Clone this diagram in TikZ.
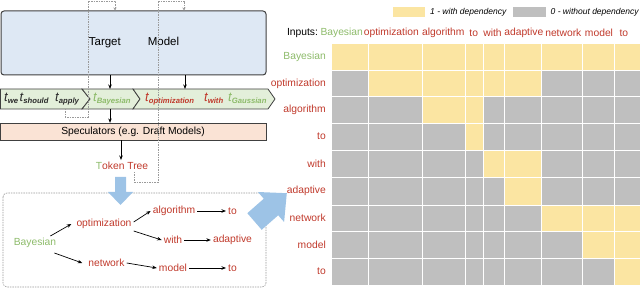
\documentclass[tikz,border=0pt]{standalone}
\usepackage{fontspec}
\setmainfont{Liberation Sans}
\usetikzlibrary{arrows.meta}
\definecolor{redw}{HTML}{C0392B}
\definecolor{grnw}{HTML}{8DBB6A}
\definecolor{cellY}{HTML}{FBE5A2}
\definecolor{cellG}{HTML}{BFBFBF}
\definecolor{tmfill}{HTML}{DEE8F4}
\definecolor{spfill}{HTML}{FAE3D5}
\definecolor{stripfill}{HTML}{E3EFDA}
\definecolor{bluearr}{HTML}{9DC3E6}
\definecolor{dashgray}{HTML}{9A9A9A}
\definecolor{edgec}{HTML}{404040}
\definecolor{tokdark}{HTML}{2B2B2B}
\newcommand{\tokn}[1]{{\fontsize{13}{14}\selectfont t}\raisebox{-2pt}{\fontsize{7.7}{8}\selectfont\bfseries #1}}
\begin{document}
\begin{tikzpicture}[x=1pt,y=-1pt,
  word/.style={font=\fontsize{10.3}{12}\selectfont, inner sep=2pt},
  redword/.style={word, text=redw},
  greenword/.style={word, text=grnw},
  tok/.style={font=\itshape, inner sep=0pt, anchor=base west},
  arr/.style={-{Stealth[length=4.5pt,width=3.5pt]}, line width=0.7pt, black},
  dashln/.style={dashgray, line width=0.6pt, dash pattern=on 1.5pt off 1pt},
  dasharr/.style={dashln, -{Stealth[length=3pt,width=3pt]}},
  chunk/.style={fill=stripfill, draw=edgec, line width=0.8pt, line join=miter},
  legtext/.style={font=\fontsize{8.5}{10}\selectfont\itshape, inner sep=0pt, anchor=west}
]
\useasboundingbox (0,0) rectangle (640,288);

% Target model box
\node[draw=edgec, line width=1pt, fill=tmfill, rounded corners=3pt,
      minimum width=265pt, minimum height=64pt, inner sep=0pt] (tm) at (133.5,43) {};
\node[font=\fontsize{11.5}{13}\selectfont, inner sep=0pt] (tmtext) at (134,43) {Target\hspace{27pt}Model};

% token strip
\draw[chunk] (0.5,89) -- (82,89) -- (90,99) -- (82,109) -- (0.5,109) -- cycle;
\draw[chunk] (82,89) -- (133,89) -- (140,99) -- (133,109) -- (82,109) -- (90,99) -- cycle;
\draw[chunk] (133,89) -- (268,89) -- (275,99) -- (268,109) -- (133,109) -- (140,99) -- cycle;
\node[tok, text=tokdark] (twe) at (4,102) {\tokn{we}};
\node[tok, text=tokdark] (tshould) at (19.5,102) {\tokn{should}};
\node[tok, text=tokdark] (tapply) at (55,102) {\tokn{apply}};
\node[tok, text=grnw] (tbay) at (93,102) {\tokn{Bayesian}};
\node[tok, text=redw] (topt) at (145,102) {\tokn{optimization}};
\node[tok, text=redw] (twith) at (204,102) {\tokn{with}};
\node[tok, text=grnw] (tgau) at (228,102) {\tokn{Gaussian}};
\coordinate (s1top) at (110,89);
\coordinate (s2top) at (185,89);
\coordinate (s1bot) at (110,109);

% speculators
\node[draw=edgec, line width=0.9pt, fill=spfill, minimum width=266pt, minimum height=16.7pt, inner sep=0pt] (spec) at (133.5,131.7) {};
\node[font=\fontsize{10.3}{12}\selectfont, inner sep=0pt] (spectext) at (133,131.7) {Speculators (e.g. Draft Models)};

% token tree label
\node[redword] (tt) at (122,166) {{\color{grnw}T}oken Tree};

% arrows
\draw[arr] (tm.south -| s1top) -- (s1top);
\draw[arr] (tm.south -| s2top) -- (s2top);
\draw[arr] (s1bot) -- (spec.north -| s1bot);
\draw[arr] ([xshift=-12.5pt]spec.south) -- ([xshift=-1pt]tt.north);

% dashed feedback lines
\coordinate (da0) at (65,109);
\coordinate (db0) at (134,172);
\draw[dasharr] (da0) -- (65,117) -- (88,117) -- (88,1) -- (115,1) -- (tm.north -| 115,0);
\draw[dasharr] (db0) -- (134,182) -- (158,182) -- (158,1) -- (184,1) -- (tm.north -| 184,0);

% tree box
\draw[dashln, rounded corners=4pt] (3,193) rectangle (266,287);

% tree nodes
\node[greenword] (bay) at (35,243) {Bayesian};
\node[redword] (opt) at (104,224) {optimization};
\node[redword] (alg) at (174,211) {algorithm};
\node[redword] (to1) at (232.5,211) {to};
\node[redword] (with) at (173,240) {with};
\node[redword] (adapt) at (232.5,240) {adaptive};
\node[redword] (net) at (106.5,263) {network};
\node[redword] (model) at (173,268) {model};
\node[redword] (to2) at (232.5,268) {to};

\draw[arr] ([xshift=-8pt]bay.north east) -- ([xshift=-3pt]opt.west);
\draw[arr] ([xshift=-4pt,yshift=-3pt]bay.south east) -- ([xshift=-4pt]net.west);
\draw[arr] ([yshift=2pt]opt.east) -- (alg.west);
\draw[arr] (opt.south east) -- (with.west);
\draw[arr] (alg.east) -- (to1.west);
\draw[arr] (with.east) -- (adapt.west);
\draw[arr] (net.east) -- (model.west);
\draw[arr] (model.east) -- (to2.west);

% blue arrows
\fill[bluearr] (115,177) -- (126,177) -- (126,192) -- (133,192) -- (120.5,205) -- (108,192) -- (115,192) -- cycle;
\fill[bluearr] (263.8,198.7) -- (257.9,192) -- (286.8,193.2) -- (284.1,222) -- (278.2,215.3) -- (261.7,229.8) -- (247.3,213.2) -- cycle;

% legend
\fill[cellY] (393,7) rectangle (425,16.7);
\node[legtext] (l1) at (430,12) {1 - with dependency};
\fill[cellG] (513,7) rectangle (546,16.7);
\node[legtext] (l0) at (550.5,12) {0 - without dependency};

% header
\node[word] (inp) at (302.5,33) {Inputs:};
\node[greenword] (h1) at (341.7,33) {Bayesian};
\node[redword] (h2) at (391.3,33) {optimization};
\node[redword] (h3) at (443.3,33) {algorithm};
\node[redword] (h4) at (473.7,33) {to};
\node[redword] (h5) at (492.5,33) {with};
\node[redword] (h6) at (523.8,33) {adaptive};
\node[redword] (h7) at (563.3,33) {network};
\node[redword] (h8) at (599,33) {model};
\node[redword] (h9) at (623.8,33) {to};

% matrix
\foreach \ya/\yb/\lo/\hi in {43.3/70/1/9, 70/96.7/2/6, 96.7/123.3/3/4, 123.3/150/4/4, 150/177.7/5/6, 177.7/205/6/6, 205/231.7/7/9, 231.7/258.3/8/9, 258.3/285/9/9}{
  \foreach \c/\xa/\xb in {1/331/368.7, 2/368.7/422.7, 3/422.7/465, 4/465/483.3, 5/483.3/504.3, 6/504.3/541.7, 7/541.7/582.7, 8/582.7/614.3, 9/614.3/641}{
    \pgfmathtruncatemacro\isy{(\c>=\lo)&&(\c<=\hi)}
    \ifnum\isy=1 \def\cc{cellY}\else\def\cc{cellG}\fi
    \fill[\cc, draw=white, line width=0.8pt] (\xa,\ya) rectangle (\xb,\yb);
  }
}

% row labels
\node[greenword, anchor=east] (r1) at (328,56.7) {Bayesian};
\node[redword, anchor=east] (r2) at (328,83.4) {optimization};
\node[redword, anchor=east] (r3) at (328,110) {algorithm};
\node[redword, anchor=east] (r4) at (328,136.7) {to};
\node[redword, anchor=east] (r5) at (328,163.8) {with};
\node[redword, anchor=east] (r6) at (328,191.3) {adaptive};
\node[redword, anchor=east] (r7) at (328,218.3) {network};
\node[redword, anchor=east] (r8) at (328,245) {model};
\node[redword, anchor=east] (r9) at (328,271.7) {to};
\end{tikzpicture}
\end{document}
